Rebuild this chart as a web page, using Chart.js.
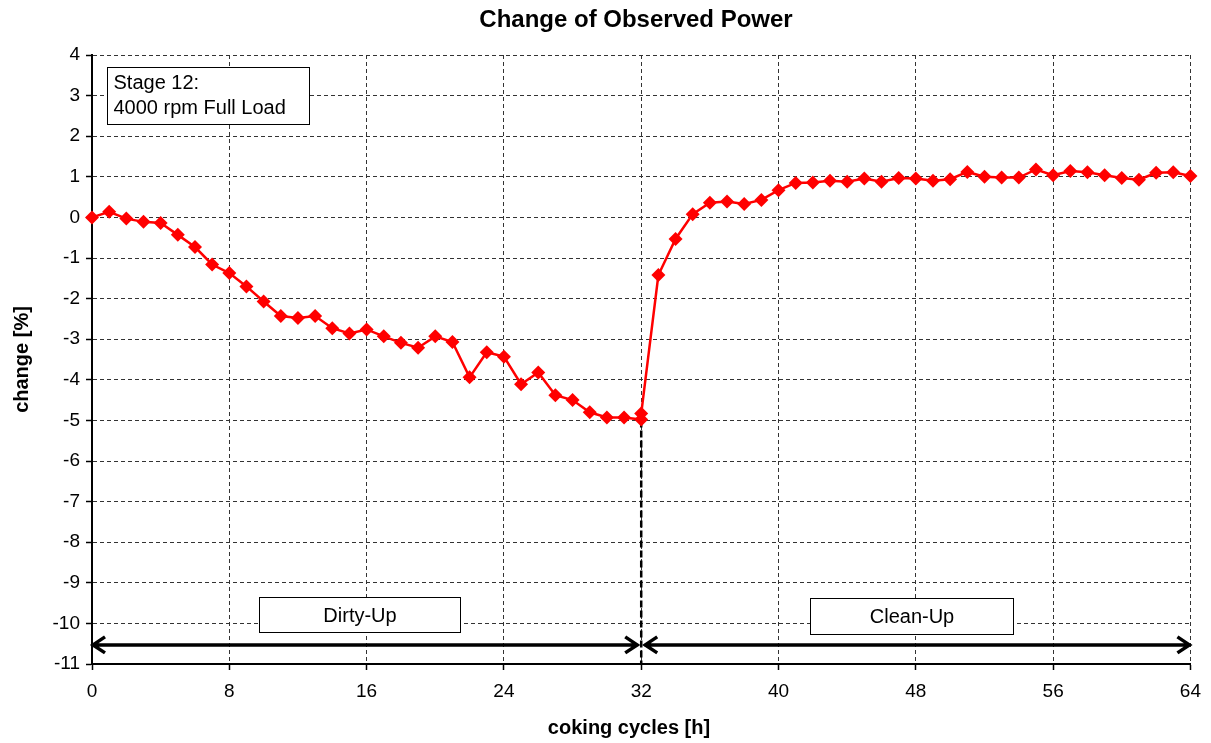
<!DOCTYPE html>
<html>
<head>
<meta charset="utf-8">
<title>Change of Observed Power</title>
<script src="https://cdn.jsdelivr.net/npm/chart.js@4.4.1/dist/chart.umd.min.js"></script>
<style>
  html, body { margin: 0; padding: 0; background: #fff; }
  #chart { display: block; }
</style>
</head>
<body>
<canvas id="chart" width="1211" height="743"></canvas>
<script>
// coking cycles [h] and change of observed power [%]
const dirtyHours = [0, 1, 2, 3, 4, 5, 6, 7, 8, 9, 10, 11, 12, 13, 14, 15, 16,
  17, 18, 19, 20, 21, 22, 23, 24, 25, 26, 27, 28, 29, 30, 31, 32];
const dirtyUp = [0, 0.14, -0.03, -0.11, -0.14, -0.43, -0.73, -1.16, -1.37, -1.70,
  -2.07, -2.43, -2.48, -2.43, -2.73, -2.86, -2.76, -2.93, -3.09, -3.21, -2.93,
  -3.07, -3.94, -3.32, -3.43, -4.11, -3.82, -4.38, -4.50, -4.80, -4.93, -4.93, -4.98];
const cleanHours = [32, 33, 34, 35, 36, 37, 38, 39, 40, 41, 42, 43, 44, 45, 46, 47, 48,
  49, 50, 51, 52, 53, 54, 55, 56, 57, 58, 59, 60, 61, 62, 63, 64];
const cleanUp = [-4.83, -1.42, -0.53, 0.08, 0.36, 0.39, 0.33, 0.43, 0.67, 0.85,
  0.86, 0.90, 0.88, 0.96, 0.88, 0.97, 0.96, 0.90, 0.94, 1.12, 1.00, 0.98, 0.98,
  1.18, 1.04, 1.14, 1.11, 1.04, 0.97, 0.93, 1.10, 1.11, 1.02];

const xTicks = [0, 8, 16, 24, 32, 40, 48, 56, 64];
const yTicks = [4, 3, 2, 1, 0, -1, -2, -3, -4, -5, -6, -7, -8, -9, -10, -11];

const FONT = "'Liberation Sans', Arial, sans-serif";

const points = dirtyHours.map((h, i) => ({ x: h, y: dirtyUp[i] }))
  .concat(cleanHours.map((h, i) => ({ x: h, y: cleanUp[i] })));

// phase boxes / arrows, given in axis units
const phases = [
  { label: "Dirty-Up", from: 0, to: 32, box: [9.72, 21.47, -9.35, -10.21] },
  { label: "Clean-Up", from: 32, to: 64, box: [41.83, 53.64, -9.375, -10.26] }
];
const stageBox = { lines: ["Stage 12:", "4000 rpm Full Load"], box: [0.87, 12.63, 3.705, 2.30] };

function drawArrow(ctx, x1, x2, y) {
  ctx.beginPath();
  ctx.moveTo(x1, y);
  ctx.lineTo(x2, y);
  ctx.moveTo(x1 + 13, y - 8);
  ctx.lineTo(x1 + 1, y);
  ctx.lineTo(x1 + 13, y + 8);
  ctx.moveTo(x2 - 13, y - 8);
  ctx.lineTo(x2 - 1, y);
  ctx.lineTo(x2 - 13, y + 8);
  ctx.stroke();
}

function drawBox(ctx, sx, sy, b) {
  const l = Math.round(sx.getPixelForValue(b[0])) + 0.5;
  const r = Math.round(sx.getPixelForValue(b[1])) + 0.5;
  const t = Math.round(sy.getPixelForValue(b[2])) + 0.5;
  const bt = Math.round(sy.getPixelForValue(b[3])) + 0.5;
  ctx.fillStyle = "#fff";
  ctx.fillRect(l, t, r - l, bt - t);
  ctx.strokeStyle = "#000";
  ctx.lineWidth = 1;
  ctx.strokeRect(l, t, r - l, bt - t);
  return { l, r, t, b: bt };
}

const annotations = {
  id: "annotations",
  beforeDatasetsDraw(chart) {
    const { ctx, scales: { x, y } } = chart;
    ctx.save();

    // boundary between dirty-up and clean-up
    const xb = x.getPixelForValue(32);
    ctx.strokeStyle = "#000";
    ctx.lineWidth = 2.5;
    ctx.setLineDash([7, 3]);
    ctx.beginPath();
    ctx.moveTo(xb, y.getPixelForValue(-5));
    ctx.lineTo(xb, y.getPixelForValue(-11));
    ctx.stroke();
    ctx.setLineDash([]);

    const ya = y.getPixelForValue(-10.53);
    phases.forEach((p) => {
      const a = x.getPixelForValue(p.from) + (p.from === 32 ? 3 : 0);
      const b = x.getPixelForValue(p.to) - (p.to === 32 ? 3 : 0);
      ctx.strokeStyle = "#000";
      ctx.lineWidth = 3.5;
      drawArrow(ctx, a, b, ya);
    });

    ctx.font = "20px " + FONT;
    ctx.textAlign = "center";
    ctx.textBaseline = "middle";
    phases.forEach((p) => {
      const r = drawBox(ctx, x, y, p.box);
      ctx.fillStyle = "#000";
      ctx.fillText(p.label, (r.l + r.r) / 2, (r.t + r.b) / 2 + 1);
    });

    const s = drawBox(ctx, x, y, stageBox.box);
    ctx.fillStyle = "#000";
    ctx.textAlign = "left";
    ctx.textBaseline = "alphabetic";
    ctx.fillText(stageBox.lines[0], s.l + 6, s.t + 21);
    ctx.fillText(stageBox.lines[1], s.l + 6, s.t + 46);

    ctx.restore();
  },
  afterDraw(chart) {
    const { ctx } = chart;
    ctx.save();
    ctx.fillStyle = "#000";
    ctx.textAlign = "center";
    ctx.textBaseline = "middle";
    ctx.font = "bold 24px " + FONT;
    ctx.fillText("Change of Observed Power", 636, 20);
    ctx.font = "bold 20px " + FONT;
    ctx.fillText("coking cycles [h]", 629, 728);
    ctx.restore();
  }
};

const gridColor = "#333";

new Chart(document.getElementById("chart"), {
  type: "line",
  data: {
    datasets: [{
      data: points,
      borderColor: "#ff0000",
      backgroundColor: "#ff0000",
      borderWidth: 2.5,
      tension: 0,
      pointStyle: "rectRot",
      pointRadius: 7,
      pointBorderWidth: 0,
      pointBackgroundColor: "#ff0000",
      clip: false
    }]
  },
  options: {
    responsive: false,
    animation: false,
    events: [],
    layout: { padding: { top: 55, right: 17, left: 0, bottom: 0 } },
    plugins: {
      legend: { display: false },
      tooltip: { enabled: false }
    },
    scales: {
      x: {
        type: "linear",
        min: 0,
        max: 64,
        afterBuildTicks: (s) => { s.ticks = xTicks.map((v) => ({ value: v })); },
        afterFit: (s) => { s.height = 79; },
        grid: { color: gridColor, lineWidth: 1, tickLength: 6, tickColor: "#000", tickWidth: 1.5 },
        border: { display: true, color: "#000", width: 2, dash: [4, 3] },
        ticks: { color: "#000", font: { family: FONT, size: 19 }, padding: 10, maxRotation: 0 }
      },
      y: {
        type: "linear",
        min: -11,
        max: 4,
        afterBuildTicks: (s) => { s.ticks = yTicks.map((v) => ({ value: v })); },
        afterFit: (s) => { s.width = 92; },
        grid: { color: gridColor, lineWidth: 1, tickLength: 6, tickColor: "#000", tickWidth: 1.5 },
        border: { display: true, color: "#000", width: 2, dash: [4, 3] },
        ticks: { color: "#000", font: { family: FONT, size: 19 }, padding: 6 },
        title: {
          display: true,
          text: "change [%]",
          color: "#000",
          font: { family: FONT, size: 20, weight: "bold" },
          padding: { top: 10, bottom: 0 }
        }
      }
    }
  },
  plugins: [annotations]
});
</script>
</body>
</html>
